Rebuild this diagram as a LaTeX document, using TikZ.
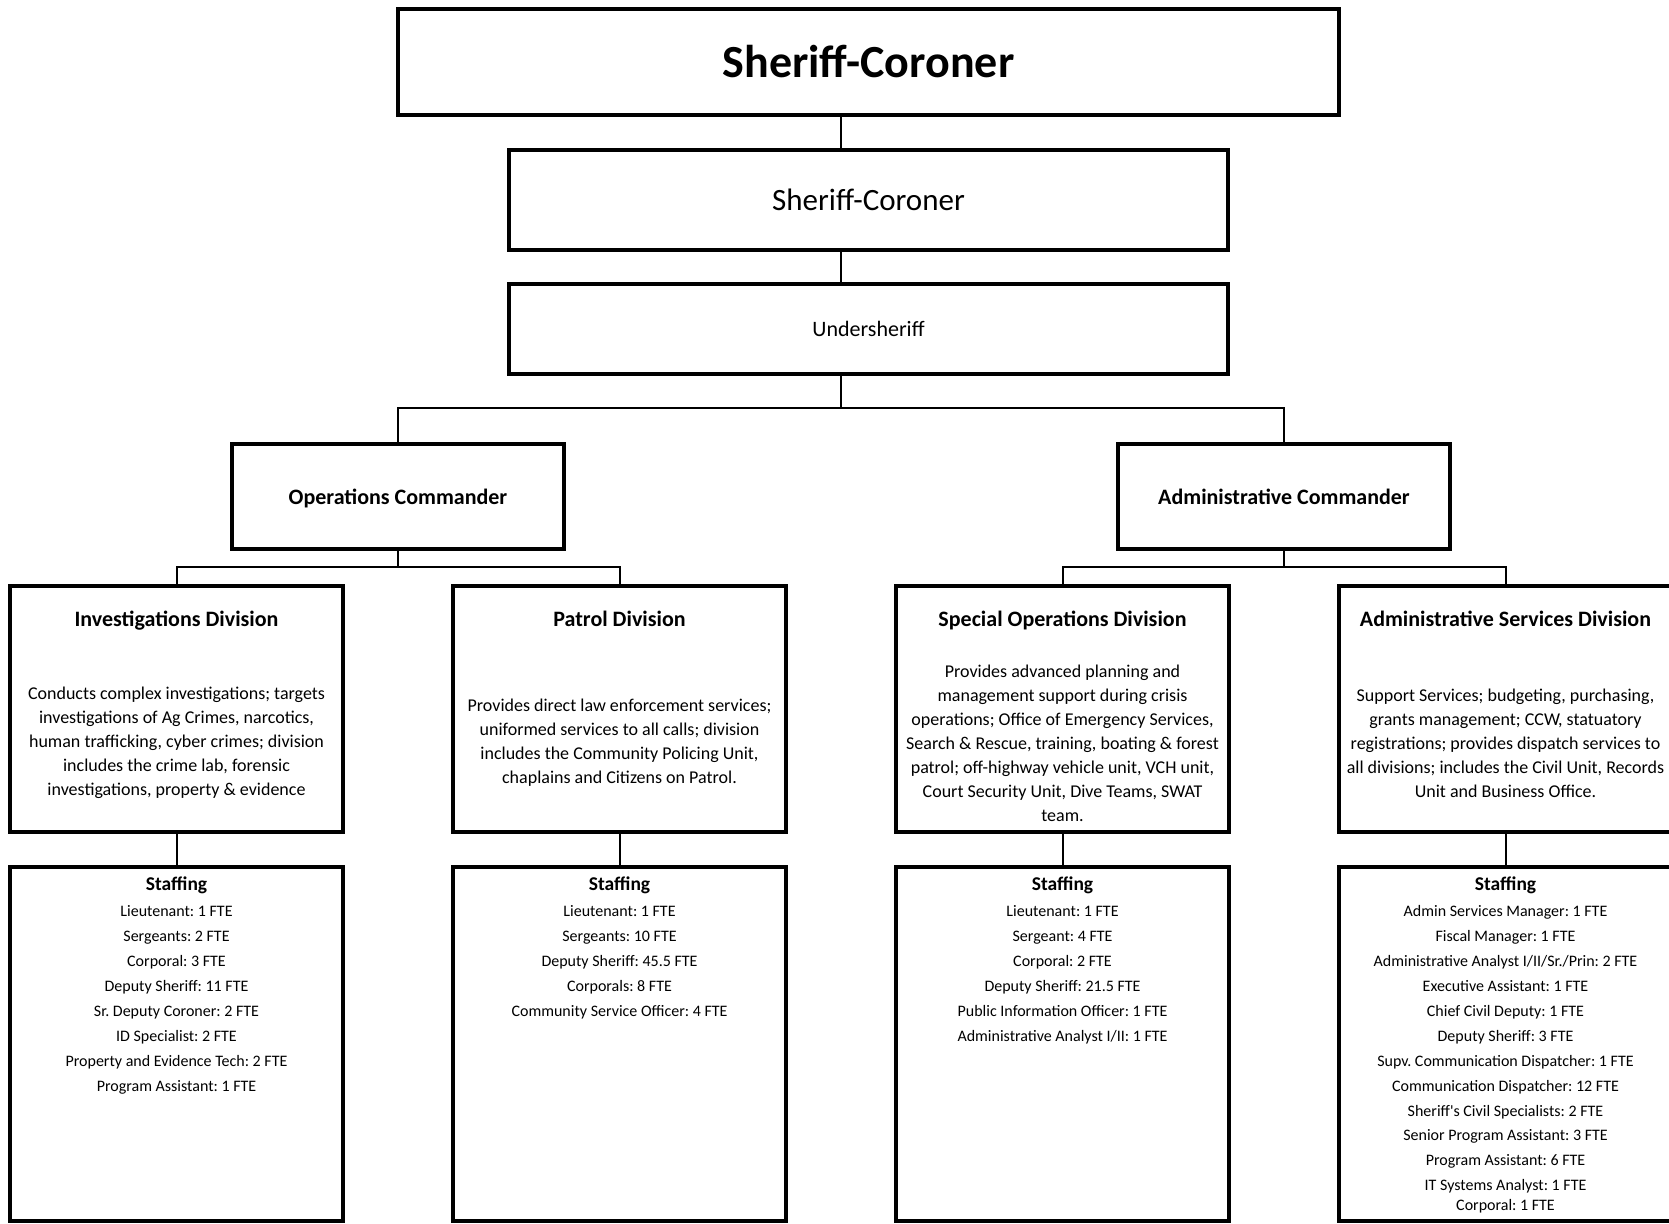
\documentclass[tikz,border=0pt]{standalone}
\usepackage{fontspec}
\setmainfont{Carlito}
\usetikzlibrary{positioning}
\frenchspacing

\begin{document}
\begin{tikzpicture}[
  x=1pt, y=-1pt,
  box/.style={rectangle, draw, line width=4pt, inner sep=0pt, outer sep=0pt, align=center},
  unit/.style={box, minimum width=333pt, minimum height=246pt},
  staffbox/.style={box, minimum width=333pt, minimum height=354pt},
  cmdbox/.style={box, minimum width=332pt, minimum height=105pt, text depth=0pt, font=\fontsize{22}{26}\selectfont\bfseries},
  unittitle/.style={anchor=base, inner sep=0pt, font=\fontsize{22}{26}\selectfont\bfseries},
  desc/.style={align=center, inner sep=0pt, font=\fontsize{18}{24}\selectfont},
  stafftitle/.style={anchor=base, inner sep=0pt, font=\fontsize{19.5}{23}\selectfont\bfseries},
  stafflist/.style={anchor=north, align=center, inner sep=0pt, font=\fontsize{16}{24.9}\selectfont},
  link/.style={line width=2pt}
]
\useasboundingbox (0,0) rectangle (1669,1223);

% top of the chain
\node[box, minimum width=941pt, minimum height=106pt, font=\fontsize{46}{55}\selectfont\bfseries] (chief) at (868.5,62) {Sheriff-Coroner};
\node[box, below=35pt of chief, minimum width=719pt, minimum height=100pt, font=\fontsize{31}{37}\selectfont] (sheriff) {Sheriff-Coroner};
\node[box, below=34pt of sheriff, minimum width=719pt, minimum height=90pt, font=\fontsize{22}{26}\selectfont] (under) {Undersheriff};

% commanders
\node[cmdbox] (ops) at (398,496.5) {Operations Commander};
\node[cmdbox] (adm) at (1284,496.5) {Administrative Commander};

% divisions
\node[unit] (inv) at (176.5,709) {};
\node[unit] (pat) at (619.5,709) {};
\node[unit] (spe) at (1062.5,709) {};
\node[unit] (asd) at (1505.5,709) {};

\node[unittitle] (invtitle) at ([yshift=-40.6pt]inv.north) {Investigations Division};
\node[unittitle] (pattitle) at ([yshift=-40.6pt]pat.north) {Patrol Division};
\node[unittitle] (spetitle) at ([yshift=-40.6pt]spe.north) {Special Operations Division};
\node[unittitle] (asdtitle) at ([yshift=-40.6pt]asd.north) {Administrative Services Division};

\node[desc] (invdesc) at ([yshift=-34pt]inv.center) {Conducts complex investigations; targets\\investigations of Ag Crimes, narcotics,\\human trafficking, cyber crimes; division\\includes the crime lab, forensic\\investigations, property \& evidence};
\node[desc] (patdesc) at ([yshift=-34pt]pat.center) {Provides direct law enforcement services;\\uniformed services to all calls; division\\includes the Community Policing Unit,\\chaplains and Citizens on Patrol.};
\node[desc] (spedesc) at ([yshift=-34pt]spe.center) {Provides advanced planning and\\management support during crisis\\operations; Office of Emergency Services,\\Search \& Rescue, training, boating \& forest\\patrol; off-highway vehicle unit, VCH unit,\\Court Security Unit, Dive Teams, SWAT\\team.};
\node[desc] (asddesc) at ([yshift=-34pt]asd.center) {Support Services; budgeting, purchasing,\\grants management; CCW, statuatory\\registrations; provides dispatch services to\\all divisions; includes the Civil Unit, Records\\Unit and Business Office.};

% staffing
\node[staffbox, below=35pt of inv] (invstaff) {};
\node[staffbox, below=35pt of pat] (patstaff) {};
\node[staffbox, below=35pt of spe] (spestaff) {};
\node[staffbox, below=35pt of asd] (asdstaff) {};

\node[stafftitle] (invstafftitle) at ([yshift=-23.3pt]invstaff.north) {Staffing};
\node[stafftitle] (patstafftitle) at ([yshift=-23.3pt]patstaff.north) {Staffing};
\node[stafftitle] (spestafftitle) at ([yshift=-23.3pt]spestaff.north) {Staffing};
\node[stafftitle] (asdstafftitle) at ([yshift=-23.3pt]asdstaff.north) {Staffing};

\node[stafflist] (invstafflist) at ([yshift=-38.5pt]invstaff.north) {Lieutenant: 1 FTE\\Sergeants: 2 FTE\\Corporal: 3 FTE\\Deputy Sheriff: 11 FTE\\Sr. Deputy Coroner: 2 FTE\\ID Specialist: 2 FTE\\Property and Evidence Tech: 2 FTE\\Program Assistant: 1 FTE};
\node[stafflist] (patstafflist) at ([yshift=-38.5pt]patstaff.north) {Lieutenant: 1 FTE\\Sergeants: 10 FTE\\Deputy Sheriff: 45.5 FTE\\Corporals: 8 FTE\\Community Service Officer: 4 FTE};
\node[stafflist] (spestafflist) at ([yshift=-38.5pt]spestaff.north) {Lieutenant: 1 FTE\\Sergeant: 4 FTE\\Corporal: 2 FTE\\Deputy Sheriff: 21.5 FTE\\Public Information Officer: 1 FTE\\Administrative Analyst I/II: 1 FTE};
\node[stafflist] (asdstafflist) at ([yshift=-38.5pt]asdstaff.north) {Admin Services Manager: 1 FTE\\Fiscal Manager: 1 FTE\\Administrative Analyst I/II/Sr./Prin: 2 FTE\\Executive Assistant: 1 FTE\\Chief Civil Deputy: 1 FTE\\Deputy Sheriff: 3 FTE\\Supv. Communication Dispatcher: 1 FTE\\Communication Dispatcher: 12 FTE\\Sheriff\textquotesingle s Civil Specialists: 2 FTE\\Senior Program Assistant: 3 FTE\\Program Assistant: 6 FTE\\IT Systems Analyst: 1 FTE\\[-4.7pt]Corporal: 1 FTE};

% connectors
\coordinate (spine) at (841,408);
\coordinate (opsbus) at (398,567);
\coordinate (admbus) at (1284,567);
\draw[link] (chief.south -| spine) -- (sheriff.north -| spine);
\draw[link] (sheriff.south -| spine) -- (under.north -| spine);
\draw[link] (under.south -| spine) -- (spine);
\draw[link] (ops.north) |- (spine) -| (adm.north);
\draw[link] (ops.south) -- (opsbus);
\draw[link] (inv.north) |- (opsbus) -| (pat.north);
\draw[link] (adm.south) -- (admbus);
\draw[link] (spe.north) |- (admbus) -| (asd.north);
\draw[link] (inv.south) -- (invstaff.north);
\draw[link] (pat.south) -- (patstaff.north);
\draw[link] (spe.south) -- (spestaff.north);
\draw[link] (asd.south) -- (asdstaff.north);
\end{tikzpicture}
\end{document}
